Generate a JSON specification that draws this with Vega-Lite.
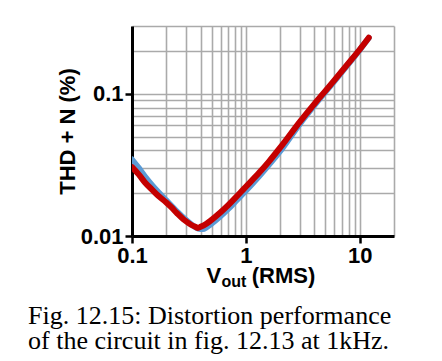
{
  "$schema": "https://vega.github.io/schema/vega-lite/v6.json",
  "width": 262,
  "height": 210,
  "autosize": "none",
  "padding": {"left": 132, "top": 26, "right": 48, "bottom": 125},
  "background": "white",
  "title": {
    "text": ["Fig. 12.15: Distortion performance", "of the circuit in fig. 12.13 at 1kHz."],
    "orient": "bottom",
    "anchor": "start",
    "frame": "group",
    "font": "Liberation Serif",
    "fontSize": 26,
    "fontWeight": "normal",
    "color": "black",
    "lineHeight": 25,
    "baseline": "top",
    "dx": -104,
    "offset": 14
  },
  "data": {
    "values": [
      {"series": "blue", "v": 0.1, "thd": 0.0345},
      {"series": "blue", "v": 0.115, "thd": 0.030},
      {"series": "blue", "v": 0.13, "thd": 0.0262},
      {"series": "blue", "v": 0.15, "thd": 0.0228},
      {"series": "blue", "v": 0.17, "thd": 0.0204},
      {"series": "blue", "v": 0.2, "thd": 0.0178},
      {"series": "blue", "v": 0.25, "thd": 0.0148},
      {"series": "blue", "v": 0.29, "thd": 0.0132},
      {"series": "blue", "v": 0.33, "thd": 0.0121},
      {"series": "blue", "v": 0.38, "thd": 0.0113},
      {"series": "blue", "v": 0.42, "thd": 0.0112},
      {"series": "blue", "v": 0.45, "thd": 0.0115},
      {"series": "blue", "v": 0.5, "thd": 0.0122},
      {"series": "blue", "v": 0.6, "thd": 0.0138},
      {"series": "blue", "v": 0.7, "thd": 0.0155},
      {"series": "blue", "v": 0.8, "thd": 0.0173},
      {"series": "blue", "v": 1.0, "thd": 0.0208},
      {"series": "blue", "v": 1.3, "thd": 0.0262},
      {"series": "blue", "v": 1.6, "thd": 0.0318},
      {"series": "blue", "v": 2.0, "thd": 0.0395},
      {"series": "blue", "v": 3.0, "thd": 0.062},
      {"series": "blue", "v": 4.0, "thd": 0.083},
      {"series": "blue", "v": 6.0, "thd": 0.123},
      {"series": "blue", "v": 8.0, "thd": 0.163},
      {"series": "blue", "v": 10.0, "thd": 0.204},
      {"series": "blue", "v": 12.0, "thd": 0.247},
      {"series": "red", "v": 0.1, "thd": 0.0305},
      {"series": "red", "v": 0.115, "thd": 0.027},
      {"series": "red", "v": 0.13, "thd": 0.0238},
      {"series": "red", "v": 0.15, "thd": 0.0212},
      {"series": "red", "v": 0.17, "thd": 0.0192},
      {"series": "red", "v": 0.2, "thd": 0.0172},
      {"series": "red", "v": 0.22, "thd": 0.0160},
      {"series": "red", "v": 0.25, "thd": 0.0144},
      {"series": "red", "v": 0.29, "thd": 0.0129},
      {"series": "red", "v": 0.33, "thd": 0.0120},
      {"series": "red", "v": 0.36, "thd": 0.0116},
      {"series": "red", "v": 0.38, "thd": 0.0114},
      {"series": "red", "v": 0.4, "thd": 0.0116},
      {"series": "red", "v": 0.45, "thd": 0.0122},
      {"series": "red", "v": 0.5, "thd": 0.0130},
      {"series": "red", "v": 0.6, "thd": 0.0147},
      {"series": "red", "v": 0.7, "thd": 0.0165},
      {"series": "red", "v": 0.8, "thd": 0.0184},
      {"series": "red", "v": 0.9, "thd": 0.0203},
      {"series": "red", "v": 1.0, "thd": 0.0222},
      {"series": "red", "v": 1.3, "thd": 0.0277},
      {"series": "red", "v": 1.6, "thd": 0.0335},
      {"series": "red", "v": 2.0, "thd": 0.0418},
      {"series": "red", "v": 3.0, "thd": 0.064},
      {"series": "red", "v": 4.0, "thd": 0.085},
      {"series": "red", "v": 5.0, "thd": 0.105},
      {"series": "red", "v": 6.0, "thd": 0.125},
      {"series": "red", "v": 7.0, "thd": 0.145},
      {"series": "red", "v": 8.0, "thd": 0.165},
      {"series": "red", "v": 10.0, "thd": 0.205},
      {"series": "red", "v": 12.0, "thd": 0.248}
    ]
  },
  "layer": [
    {
      "transform": [{"filter": "datum.series == 'blue'"}],
      "mark": {"type": "line", "color": "#5b9bd5", "strokeWidth": 6, "strokeCap": "round", "strokeJoin": "round", "interpolate": "monotone", "clip": true},
      "encoding": {
        "x": {
          "field": "v", "type": "quantitative",
          "scale": {"type": "log", "domain": [0.1, 20], "nice": false},
          "axis": {
            "orient": "bottom",
            "values": [0.1, 0.2, 0.3, 0.4, 0.5, 0.6, 0.7, 0.8, 0.9, 1, 2, 3, 4, 5, 6, 7, 8, 9, 10, 20],
            "format": "~g",
            "labelExpr": "indexof([0.1, 1, 10], datum.value) >= 0 ? datum.label : ''",
            "tickOpacity": {"condition": {"test": "indexof([0.1, 1, 10], datum.value) >= 0", "value": 1}, "value": 0},
            "grid": true, "gridColor": "#aaaaaa", "gridWidth": 1.6,
            "domainColor": "black", "domainWidth": 3,
            "tickColor": "black", "tickWidth": 2.5, "tickSize": 7,
            "labelFont": "Liberation Sans", "labelFontWeight": "bold", "labelFontSize": 22, "labelColor": "black",
            "labelPadding": 2, "labelFlush": false, "labelOverlap": false,
            "title": "V\u00a0\u00a0\u00a0\u00a0\u00a0(RMS)",
            "titleFont": "Liberation Sans", "titleFontWeight": "bold", "titleFontSize": 22, "titleColor": "black",
            "titleAlign": "left", "titleBaseline": "alphabetic", "titleX": 74, "titleY": 46
          }
        },
        "y": {
          "field": "thd", "type": "quantitative",
          "scale": {"type": "log", "domain": [0.01, 0.3], "nice": false},
          "axis": {
            "values": [0.01, 0.02, 0.03, 0.04, 0.05, 0.06, 0.07, 0.08, 0.09, 0.1, 0.2, 0.3],
            "format": "~g",
            "labelExpr": "indexof([0.01, 0.1], datum.value) >= 0 ? datum.label : ''",
            "tickOpacity": {"condition": {"test": "indexof([0.01, 0.1], datum.value) >= 0", "value": 1}, "value": 0},
            "grid": true, "gridColor": "#aaaaaa", "gridWidth": 1.6,
            "domainColor": "black", "domainWidth": 3,
            "tickColor": "black", "tickWidth": 2.5, "tickSize": 7,
            "labelFont": "Liberation Sans", "labelFontWeight": "bold", "labelFontSize": 22, "labelColor": "black",
            "labelPadding": 2, "labelFlush": false, "labelOverlap": false,
            "title": "THD + N (%)",
            "titleFont": "Liberation Sans", "titleFontWeight": "bold", "titleFontSize": 22, "titleColor": "black",
            "titlePadding": 1
          }
        }
      }
    },
    {
      "transform": [{"filter": "datum.series == 'red'"}],
      "mark": {"type": "line", "color": "#c40000", "strokeWidth": 6, "strokeCap": "round", "strokeJoin": "round", "interpolate": "monotone", "clip": true},
      "encoding": {
        "x": {
          "field": "v", "type": "quantitative",
          "axis": {
            "orient": "bottom",
            "domain": false, "ticks": false, "labels": false, "grid": false,
            "title": "out",
            "titleFont": "Liberation Sans", "titleFontWeight": "bold", "titleFontSize": 16, "titleColor": "black",
            "titleAlign": "left", "titleBaseline": "alphabetic", "titleX": 89, "titleY": 50
          }
        },
        "y": {
          "field": "thd", "type": "quantitative",
          "axis": {
            "values": [0.01, 0.02, 0.03, 0.04, 0.05, 0.06, 0.07, 0.08, 0.09, 0.1, 0.2, 0.3],
            "format": "~g",
            "labelExpr": "indexof([0.01, 0.1], datum.value) >= 0 ? datum.label : ''",
            "tickOpacity": {"condition": {"test": "indexof([0.01, 0.1], datum.value) >= 0", "value": 1}, "value": 0},
            "grid": true, "gridColor": "#aaaaaa", "gridWidth": 1.6,
            "domainColor": "black", "domainWidth": 3,
            "tickColor": "black", "tickWidth": 2.5, "tickSize": 7,
            "labelFont": "Liberation Sans", "labelFontWeight": "bold", "labelFontSize": 22, "labelColor": "black",
            "labelPadding": 2, "labelFlush": false, "labelOverlap": false,
            "title": "THD + N (%)",
            "titleFont": "Liberation Sans", "titleFontWeight": "bold", "titleFontSize": 22, "titleColor": "black",
            "titlePadding": 1
          }
        }
      }
    }
  ],
  "resolve": {"axis": {"x": "independent"}},
  "config": {"view": {"stroke": null}}
}
